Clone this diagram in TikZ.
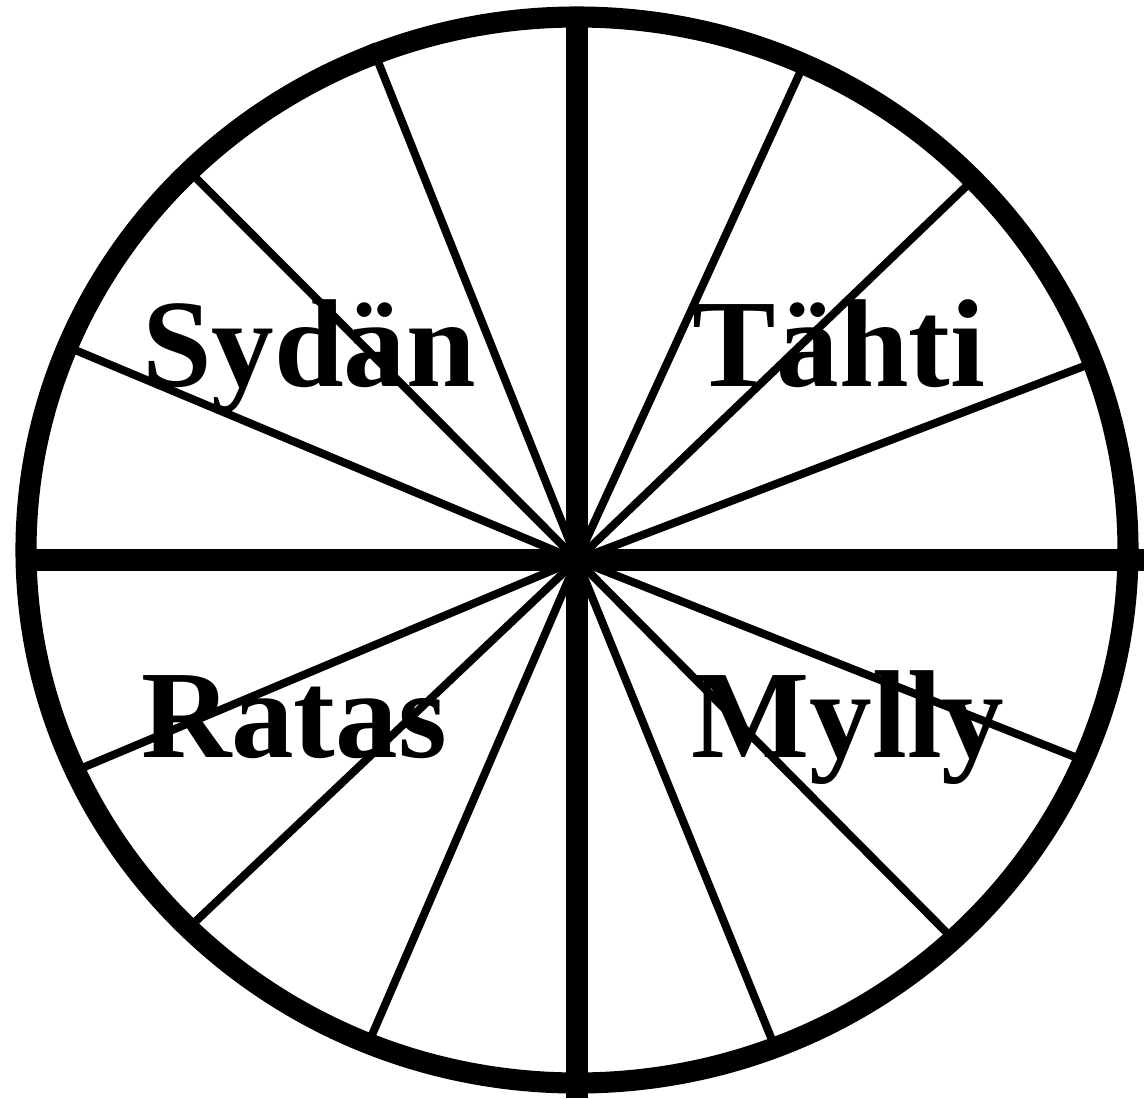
\documentclass[tikz,border=0pt]{standalone}
\usepackage{fontspec}
\setmainfont{Liberation Serif}

\begin{document}
\begin{tikzpicture}[
    x=0.025cm, y=-0.025cm,
    rim/.style={draw=black, line width=15pt},
    axis/.style={draw=black, line width=15pt},
    spoke/.style={draw=black, line width=5.7pt},
    word/.style={font=\fontsize{89}{100}\selectfont\bfseries, inner sep=0pt, anchor=base},
]
\useasboundingbox (0,0) rectangle (1144,1098);

% ===================== Radat =====================
\coordinate (hub) at (577,560);
\foreach \n/\px/\py in {a/371/44, b/195/177, c/75/350, d/82/768, e/195/922, f/372/1035,
                        g/772/1040, h/948/934, i/1075/757, j/1087/365, k/978/175, l/803/66}{
    \coordinate (s\n) at (\px,\py);
    \draw[spoke] (hub) -- (s\n);
}

% ===================== Akselit ja kehä =====================
\coordinate (axL) at (16,560);
\coordinate (axR) at (1144,560);
\coordinate (axT) at (577,27);
\coordinate (axB) at (577,1098);
\draw[axis] (axL) -- (axR);
\draw[axis] (axT) -- (axB);
\draw[rim] (577,550) ellipse [x radius=551, y radius=533];

% ===================== Nimet =====================
\node[word] (sydan) at (309,386) {Sydän};
\node[word] (tahti) at (839,386) {Tähti};
\node[word] (ratas) at (294,757) {Ratas};
\node[word] (mylly) at (848,757) {Mylly};

\end{tikzpicture}
\end{document}
